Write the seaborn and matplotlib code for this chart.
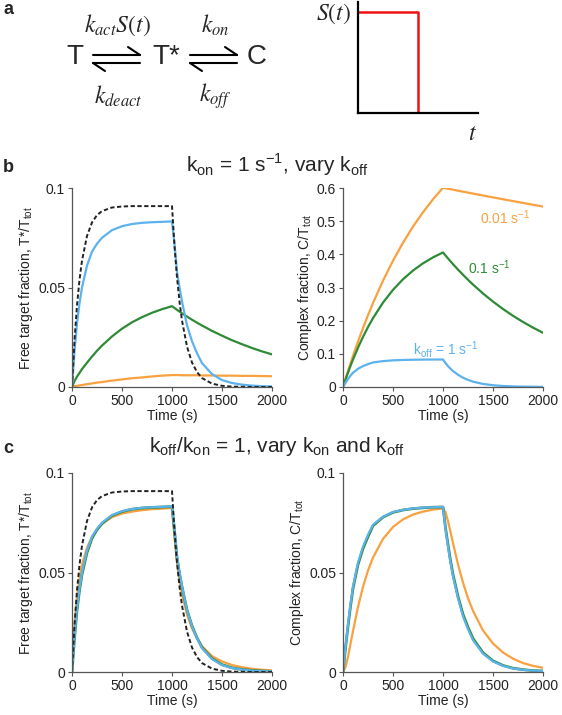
import seaborn as sns
import matplotlib.pyplot as plt
from matplotlib.lines import Line2D

W, H = 562, 715

# time grid (s) shared by all curves
time_s = [0, 25, 50, 75, 100, 150, 200, 250, 300, 400, 500, 600, 700, 800, 900, 1000,
          1025, 1050, 1075, 1100, 1150, 1200, 1250, 1300, 1400, 1500, 1600, 1700, 1800, 1900, 2000]

# dashed reference: free target without any binding
free_no_binding = [0, 0.0236, 0.0410, 0.0539, 0.0635, 0.0759, 0.0827, 0.0864, 0.0884, 0.0902,
                   0.0907, 0.0909, 0.0909, 0.0909, 0.0909, 0.0909,
                   0.0708, 0.0551, 0.0429, 0.0334, 0.0203, 0.0123, 0.0075, 0.0045, 0.0017,
                   0.0006, 0.0002, 0.0001, 0, 0, 0]

# panel b: kon = 1, vary koff  (free target T*/Ttot)
free_koff_1 = [0, 0.018, 0.032, 0.042, 0.050, 0.061, 0.068, 0.072, 0.075, 0.0788, 0.0808,
               0.0819, 0.0825, 0.0828, 0.0830, 0.0832,
               0.072, 0.058, 0.050, 0.043, 0.031, 0.023, 0.017, 0.012, 0.0065, 0.0035,
               0.0020, 0.0012, 0.0007, 0.0004, 0.0003]
free_koff_01 = [0, 0.0030, 0.0052, 0.0071, 0.0090, 0.0122, 0.0153, 0.0182, 0.0208, 0.0254,
                0.0293, 0.0325, 0.0351, 0.0373, 0.0391, 0.0406,
                0.0397, 0.0388, 0.0379, 0.0370, 0.0354, 0.0338, 0.0323, 0.0309, 0.0282,
                0.0258, 0.0235, 0.0215, 0.0196, 0.0179, 0.0164]
free_koff_001 = [0, 0.0004, 0.0006, 0.0008, 0.0010, 0.0014, 0.0018, 0.0022, 0.0025, 0.0032,
                 0.0038, 0.0044, 0.0048, 0.0053, 0.0057, 0.0060,
                 0.0060, 0.0060, 0.0060, 0.0059, 0.0059, 0.0059, 0.0059, 0.0058, 0.0058,
                 0.0057, 0.0057, 0.0056, 0.0056, 0.0055, 0.0054]

# panel b: complex C/Ttot
cplx_koff_1 = [0, 0.0125, 0.024, 0.034, 0.043, 0.055, 0.063, 0.069, 0.074, 0.078, 0.0804,
               0.0815, 0.0822, 0.0826, 0.0828, 0.0829,
               0.072, 0.063, 0.055, 0.048, 0.037, 0.028, 0.0215, 0.016, 0.0092, 0.0053,
               0.0031, 0.0018, 0.0011, 0.0007, 0.0005]
cplx_koff_01 = [0, 0.0222, 0.0434, 0.0636, 0.0828, 0.1186, 0.1512, 0.1808, 0.2077, 0.2544,
                0.2930, 0.3248, 0.3511, 0.3729, 0.3908, 0.4057,
                0.3966, 0.3877, 0.3790, 0.3704, 0.3540, 0.3383, 0.3233, 0.3089, 0.2820,
                0.2575, 0.2351, 0.2147, 0.1961, 0.1790, 0.1635]
cplx_koff_001 = [0, 0.0244, 0.0482, 0.0713, 0.0938, 0.1370, 0.1778, 0.2165, 0.2531, 0.3205,
                 0.3809, 0.4350, 0.4836, 0.5270, 0.5659, 0.6008,
                 0.5993, 0.5978, 0.5964, 0.5949, 0.5919, 0.5890, 0.5861, 0.5832, 0.5774,
                 0.5717, 0.5661, 0.5605, 0.5549, 0.5495, 0.5441]

# panel c: koff/kon = 1, vary both
free_mid_c = [0, 0.017, 0.031, 0.041, 0.049, 0.060, 0.0672, 0.0715, 0.0746, 0.0786, 0.0806,
              0.0818, 0.0824, 0.0827, 0.0829, 0.0831,
              0.071, 0.0575, 0.0495, 0.0428, 0.0312, 0.0232, 0.0172, 0.0123, 0.0068,
              0.0037, 0.0021, 0.0013, 0.0008, 0.0005, 0.0003]
free_slow_c = [0, 0.024, 0.038, 0.047, 0.054, 0.0625, 0.068, 0.0718, 0.0745, 0.0778, 0.0796,
               0.0806, 0.0813, 0.0818, 0.0821, 0.0824,
               0.068, 0.055, 0.046, 0.039, 0.029, 0.022, 0.017, 0.0130, 0.0080, 0.0053,
               0.0035, 0.0024, 0.0016, 0.0011, 0.0008]
cplx_mid_c = [0, 0.012, 0.023, 0.033, 0.042, 0.054, 0.062, 0.068, 0.0735, 0.0778, 0.0802,
              0.0814, 0.0821, 0.0825, 0.0828, 0.0829,
              0.0725, 0.064, 0.056, 0.049, 0.038, 0.029, 0.0225, 0.0168, 0.0097, 0.0056,
              0.0033, 0.0019, 0.0012, 0.0007, 0.0005]
cplx_slow_c = [0, 0.0024, 0.0077, 0.0141, 0.0206, 0.0327, 0.0428, 0.0510, 0.0575, 0.0669,
               0.0729, 0.0767, 0.0791, 0.0806, 0.0816, 0.0822,
               0.0803, 0.0758, 0.0704, 0.0648, 0.0541, 0.0449, 0.0371, 0.0307, 0.0209,
               0.0143, 0.0098, 0.0067, 0.0045, 0.0031, 0.0021]

# schematic stimulus S(t)
stim_t = [0, 1, 1]
stim_s = [1, 1, 0]

BLUE, GREEN, ORANGE = '#5db2ee', '#2e8b35', '#f9a03f'

sns.set_style('ticks')
plt.rcParams['font.family'] = ['Liberation Sans', 'DejaVu Sans']
plt.rcParams['axes.edgecolor'] = '#555555'
plt.rcParams['axes.linewidth'] = 0.9

fig = plt.figure(figsize=(W / 100, H / 100), dpi=100)


def px_axes(x0, y0, x1, y1):
    return fig.add_axes([x0 / W, 1 - y1 / H, (x1 - x0) / W, (y1 - y0) / H])


def px_text(x, y, s, **kw):
    fig.text(x / W, 1 - y / H, s, ha='center', va='center', **kw)


def curve(ax, y, color, lw=1.6, ls='-'):
    sns.lineplot(x=time_s, y=y, ax=ax, color=color, linewidth=lw, linestyle=ls,
                 estimator=None, errorbar=None)


def style(ax, ymax, yticks, ylabels, ylabel):
    ax.set_xlim(0, 2000)
    ax.set_ylim(0, ymax)
    ax.set_xticks([0, 500, 1000, 1500, 2000])
    ax.set_yticks(yticks)
    ax.set_yticklabels(ylabels)
    ax.set_xlabel('Time (s)', fontsize=10, labelpad=1, color='#222222')
    ax.set_ylabel(ylabel, fontsize=10, labelpad=2, color='#222222')
    ax.tick_params(length=3, width=0.8, labelsize=10, pad=2, colors='#555555',
                   labelcolor='#222222')
    sns.despine(ax=ax)


free_lbl = r'Free target fraction, T*/T$_\mathregular{tot}$'
cplx_lbl = r'Complex fraction, C/T$_\mathregular{tot}$'
small_ticks = [0, 0.05, 0.1]
small_lbls = ['0', '0.05', '0.1']

# ---- panel a: reaction scheme
ax_a = px_axes(0, 0, 300, 130)
ax_a.set_xlim(0, 300)
ax_a.set_ylim(130, 0)
ax_a.axis('off')
for x0, x1 in [(93, 140), (190, 237)]:
    ax_a.add_line(Line2D([x0, x1], [55, 55], color='black', lw=1.5))
    ax_a.add_line(Line2D([x1 - 12, x1], [47, 55], color='black', lw=1.5))
    ax_a.add_line(Line2D([x0, x1], [63, 63], color='black', lw=1.5))
    ax_a.add_line(Line2D([x0, x0 + 12], [63, 71], color='black', lw=1.5))
for x, s in [(75, 'T'), (166, 'T*'), (257, 'C')]:
    px_text(x, 57, s, fontsize=20)
px_text(117, 25, r'$k_{act}S(t)$', fontsize=17, math_fontfamily='stix')
px_text(118, 96, r'$k_{deact}$', fontsize=17, math_fontfamily='stix')
px_text(215, 25, r'$k_{on}$', fontsize=17, math_fontfamily='stix')
px_text(215, 96, r'$k_{off}$', fontsize=17, math_fontfamily='stix')

ax_s = px_axes(358, 2, 478, 113)
sns.lineplot(x=stim_t, y=stim_s, ax=ax_s, color='#ee1111', linewidth=1.8, sort=False,
             estimator=None, errorbar=None)
ax_s.set_xlim(0, 2)
ax_s.set_ylim(0, 1.1)
ax_s.set_xticks([])
ax_s.set_yticks([])
sns.despine(ax=ax_s)
for sp in ['left', 'bottom']:
    ax_s.spines[sp].set_color('black')
    ax_s.spines[sp].set_linewidth(1.6)
px_text(333, 14, r'$S(t)$', fontsize=17, math_fontfamily='stix')
px_text(472, 134, r'$t$', fontsize=17, math_fontfamily='stix')

# ---- panel b
ax1 = px_axes(72, 188, 272, 387)
curve(ax1, free_koff_001, ORANGE)
curve(ax1, free_koff_01, GREEN)
curve(ax1, free_koff_1, BLUE)
curve(ax1, free_no_binding, '#222222', lw=1.4, ls=(0, (2.2, 1.3)))
style(ax1, 0.1, small_ticks, small_lbls, free_lbl)

ax2 = px_axes(343, 188, 543, 387)
curve(ax2, cplx_koff_001, ORANGE)
curve(ax2, cplx_koff_01, GREEN)
curve(ax2, cplx_koff_1, BLUE)
style(ax2, 0.6, [0, 0.1, 0.2, 0.3, 0.4, 0.5, 0.6],
      ['0', '0.1', '0.2', '0.3', '0.4', '0.5', '0.6'], cplx_lbl)
ax2.text(1620, 0.51, r'0.01 s$^\mathregular{-1}$', color=ORANGE, ha='center', va='center', fontsize=10)
ax2.text(1460, 0.36, r'0.1 s$^\mathregular{-1}$', color=GREEN, ha='center', va='center', fontsize=10)
ax2.text(1030, 0.112, r'k$_\mathregular{off}$ = 1 s$^\mathregular{-1}$', color=BLUE,
         ha='center', va='center', fontsize=10)

# ---- panel c
ax3 = px_axes(72, 473, 272, 672)
curve(ax3, free_slow_c, ORANGE)
curve(ax3, free_mid_c, GREEN, lw=2.0)
curve(ax3, free_koff_1, BLUE)
curve(ax3, free_no_binding, '#222222', lw=1.4, ls=(0, (2.2, 1.3)))
style(ax3, 0.1, small_ticks, small_lbls, free_lbl)

ax4 = px_axes(343, 473, 543, 672)
curve(ax4, cplx_slow_c, ORANGE)
curve(ax4, cplx_mid_c, GREEN, lw=2.0)
curve(ax4, cplx_koff_1, BLUE)
style(ax4, 0.1, small_ticks, small_lbls, cplx_lbl)

# titles and panel letters
px_text(277, 165, r'k$_\mathregular{on}$ = 1 s$^\mathregular{-1}$, vary k$_\mathregular{off}$', fontsize=15)
px_text(277, 447, r'k$_\mathregular{off}$/k$_\mathregular{on}$ = 1, vary k$_\mathregular{on}$ and k$_\mathregular{off}$',
        fontsize=15)
for y, s in [(10, 'a'), (167, 'b'), (448, 'c')]:
    px_text(8, y, s, fontsize=13, fontweight='bold')

fig.savefig('out.png', dpi=100)
